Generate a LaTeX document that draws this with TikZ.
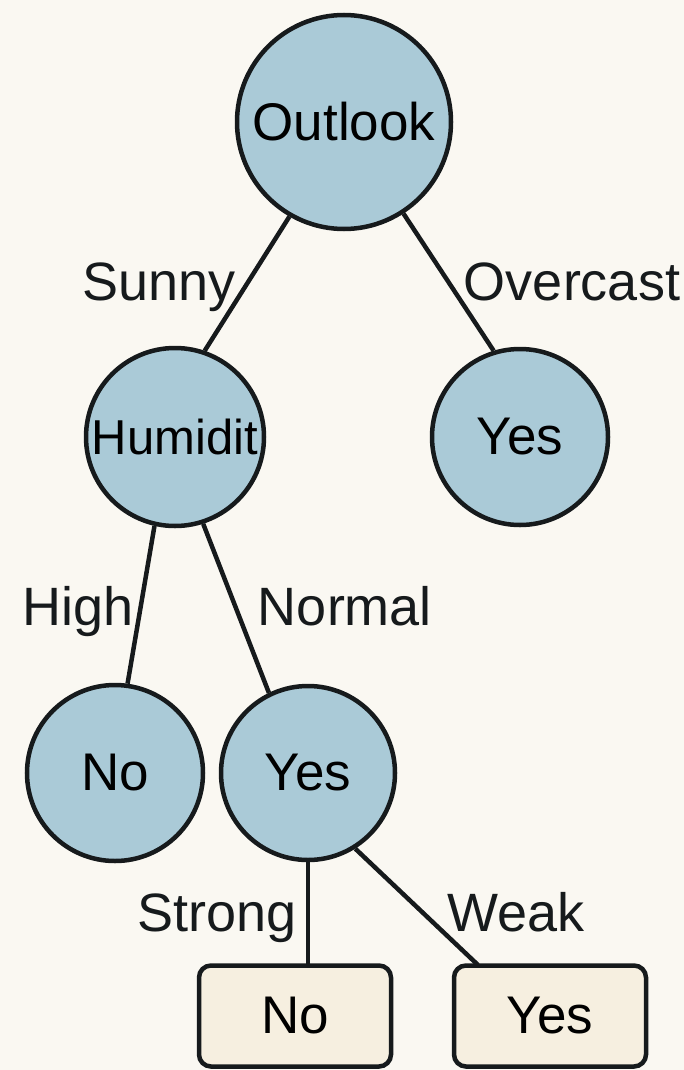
\documentclass[tikz,border=0pt]{standalone}
\usepackage{fontspec}
\setmainfont{Liberation Sans}
\definecolor{bgc}{HTML}{FAF8F2}
\definecolor{circfill}{HTML}{AACAD7}
\definecolor{boxfill}{HTML}{F6EFE0}
\definecolor{ink}{HTML}{161A1C}
\begin{document}
\begin{tikzpicture}[x=1pt,y=-1pt,
  treecirc/.style={circle,draw=ink,fill=circfill,line width=4.5pt,inner sep=0pt,font=\fontsize{53}{62}\selectfont},
  leafbox/.style={rectangle,rounded corners=12pt,draw=ink,fill=boxfill,line width=4.5pt,minimum width=192pt,minimum height=101pt,inner sep=0pt,font=\fontsize{53}{62}\selectfont},
  edge/.style={draw=ink,line width=4.5pt},
  elabel/.style={anchor=base,inner sep=0pt,font=\fontsize{54}{64}\selectfont,text=ink}]
\fill[bgc] (0,0) rectangle (684,1070);
\useasboundingbox (0,0) rectangle (684,1070);
\node[treecirc,minimum size=214pt] (out) at (344,122) {Outlook};
\node[treecirc,minimum size=178pt,font=\fontsize{49}{60}\selectfont] (hum) at (175,437) {Humidit};
\node[treecirc,minimum size=176pt] (yr) at (520,437) {Yes};
\node[treecirc,minimum size=176pt] (no) at (115,773) {No};
\node[treecirc,minimum size=174pt] (ym) at (308,773) {Yes};
\node[leafbox] (bno) at (295,1016) {No};
\node[leafbox] (byes) at (550,1016) {Yes};
\coordinate (bnotop) at (308,965);
\coordinate (byestop) at (478,965);
\draw[edge] (out.-120) -- (hum.71);
\draw[edge] (out.-57) -- (yr.107);
\draw[edge] (hum.-103) -- (no.82);
\draw[edge] (hum.-72) -- (ym.116);
\draw[edge] (ym.south) -- (bnotop);
\draw[edge] (ym.-58) -- (byestop);
\node[elabel] (lsunny) at (159,300) {Sunny};
\node[elabel] (lover) at (572,300) {Overcast};
\node[elabel] (lhigh) at (78,625) {High};
\node[elabel] (lnorm) at (345,625) {Normal};
\node[elabel] (lstrong) at (217,931) {Strong};
\node[elabel] (lweak) at (516,931) {Weak};
\end{tikzpicture}
\end{document}
